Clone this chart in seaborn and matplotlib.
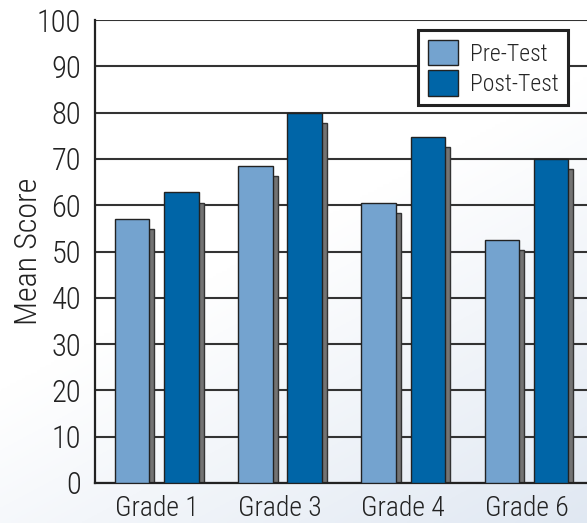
import numpy as np
import pandas as pd
import matplotlib
matplotlib.use("Agg")
import matplotlib.pyplot as plt
from matplotlib.patches import Rectangle, Patch
from matplotlib import font_manager
import seaborn as sns

sns.set_theme(style="white")

# prefer a narrow face if one is installed
names = {f.name for f in font_manager.fontManager.ttflist}
narrow = [n for n in ["Liberation Sans Narrow", "Arial Narrow", "Roboto Condensed"] if n in names]
plt.rcParams["font.family"] = narrow + ["DejaVu Sans"]
plt.rcParams["font.stretch"] = "condensed"
plt.rcParams["font.weight"] = "light"
plt.rcParams["axes.labelweight"] = "light"

grades = ["Grade 1", "Grade 3", "Grade 4", "Grade 6"]
pre_test = [57.0, 68.5, 60.5, 52.5]
post_test = [62.8, 80.0, 74.7, 70.0]
tests = ["Pre-Test", "Post-Test"]
colors = ["#74a3cf", "#0065a7"]

df = pd.DataFrame({
    "grade": grades * 2,
    "test": [tests[0]] * 4 + [tests[1]] * 4,
    "score": pre_test + post_test,
})

fig = plt.figure(figsize=(5.87, 5.23), dpi=100)

# gradient background (white top-left -> pale blue-gray bottom-right)
bg = fig.add_axes([0, 0, 1, 1], zorder=-10)
yy, xx = np.mgrid[0:1:200j, 0:1:200j]
t = np.clip(0.6 * xx + yy - 0.75, 0, 0.85) / 0.85
c0 = np.array([1.0, 1.0, 1.0])
c1 = np.array([0.88, 0.91, 0.95])
img = c0 + (c1 - c0) * t[..., None]
bg.imshow(img, extent=[0, 1, 0, 1], aspect="auto", origin="upper")
bg.axis("off")

ax = fig.add_axes([0.162, 0.0765, 0.84, 0.885])
ax.patch.set_alpha(0)

sns.barplot(data=df, x="grade", y="score", hue="test", order=grades,
            hue_order=tests, palette=colors, width=0.8, gap=0.3,
            edgecolor="#222222", linewidth=1.0, saturation=1,
            legend=False, ax=ax, zorder=3)

# drop shadows behind each bar
for p in list(ax.patches):
    h = p.get_height()
    if h <= 0:
        continue
    sh = Rectangle((p.get_x() + 0.04, 0), p.get_width(), h - 2.2,
                   facecolor="#737373", edgecolor="#333333", linewidth=1.0,
                   zorder=2)
    ax.add_patch(sh)

ax.set_ylim(0, 100)
ax.set_xlim(-0.5, 3.5)
ax.set_yticks(range(0, 101, 10))
ax.yaxis.grid(True, color="#333333", linewidth=1.5, zorder=0)
ax.set_axisbelow(True)

for s in ["top", "right"]:
    ax.spines[s].set_visible(False)
for s in ["left", "bottom"]:
    ax.spines[s].set_color("#222222")
    ax.spines[s].set_linewidth(1.6)

fs = 22 if narrow else 17
ax.tick_params(axis="y", length=0, labelsize=fs, pad=10, colors="#222222")
ax.tick_params(axis="x", which="major", length=0, labelsize=fs - 2, pad=9, colors="#222222")
ax.set_xticks([0.5, 1.5, 2.5], minor=True)
ax.tick_params(axis="x", which="minor", direction="in", length=10, width=1.2, color="#333333")

ax.set_xlabel("")
ax.set_ylabel("Mean Score", fontsize=fs + 1, color="#222222", fontweight="light")
ax.yaxis.set_label_coords(-0.105, 0.5)

handles = [Patch(facecolor=c, edgecolor="#222222", label=l) for c, l in zip(colors, tests)]
leg = ax.legend(handles=handles, loc="upper right", bbox_to_anchor=(0.96, 0.978),
                borderaxespad=0, fontsize=fs - 5, frameon=True, fancybox=False,
                handlelength=1.3, handleheight=1.3, handletextpad=0.5,
                borderpad=0.4, labelspacing=0.2)
leg.get_frame().set_edgecolor("#222222")
leg.get_frame().set_linewidth(2.2)
leg.get_frame().set_facecolor("white")
leg.get_frame().set_alpha(1)
leg.set_zorder(10)

fig.savefig("out.png", dpi=100)
